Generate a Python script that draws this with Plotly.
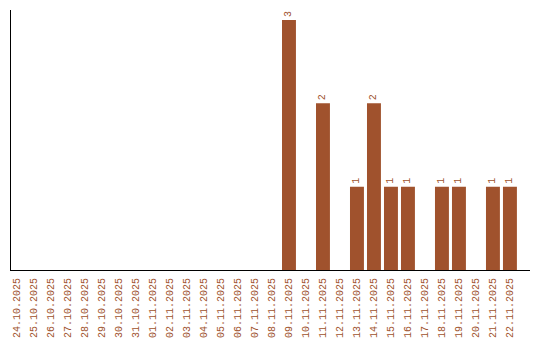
import plotly.graph_objects as go

dates = ["24.10.2025", "25.10.2025", "26.10.2025", "27.10.2025", "28.10.2025",
         "29.10.2025", "30.10.2025", "31.10.2025", "01.11.2025", "02.11.2025",
         "03.11.2025", "04.11.2025", "05.11.2025", "06.11.2025", "07.11.2025",
         "08.11.2025", "09.11.2025", "10.11.2025", "11.11.2025", "12.11.2025",
         "13.11.2025", "14.11.2025", "15.11.2025", "16.11.2025", "17.11.2025",
         "18.11.2025", "19.11.2025", "20.11.2025", "21.11.2025", "22.11.2025"]
counts = [0, 0, 0, 0, 0, 0, 0, 0, 0, 0,
          0, 0, 0, 0, 0, 0, 3, 0, 2, 0,
          1, 2, 1, 1, 0, 1, 1, 0, 1, 1]

color = "#A0522D"
labels = [str(v) if v else "" for v in counts]

fig = go.Figure(go.Bar(
    x=dates, y=counts, marker_color=color, marker_line_width=0,
    text=labels, textposition="outside", textangle=-90,
    textfont=dict(family="Liberation Mono", size=10, color=color),
    cliponaxis=False,
))

fig.update_layout(
    width=540, height=340,
    margin=dict(l=11, r=10, t=10, b=70, autoexpand=False),
    paper_bgcolor="white", plot_bgcolor="white",
    bargap=0.18, showlegend=False,
    xaxis=dict(
        type="category", range=[-0.353, 30.18], automargin=False,
        tickangle=-90, ticks="", showgrid=False, zeroline=False,
        showline=True, linecolor="black", linewidth=1,
        ticklabelstandoff=3,
        tickfont=dict(family="Liberation Mono", size=10, color=color),
    ),
    yaxis=dict(
        range=[0, 3.12], showticklabels=False, ticks="", showgrid=False,
        zeroline=False, showline=True, linecolor="black", linewidth=1,
        automargin=False,
    ),
)

fig.write_html("out.html")
